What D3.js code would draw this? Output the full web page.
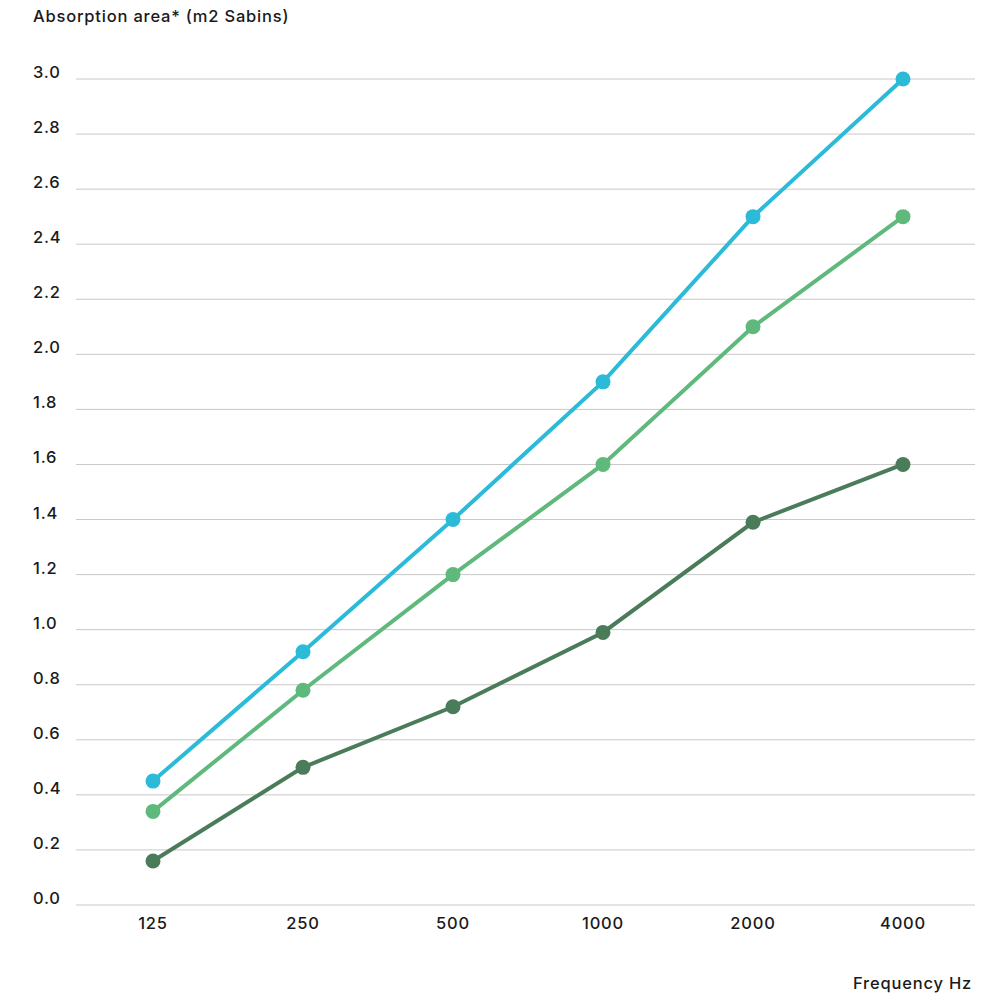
<!DOCTYPE html>
<html>
<head>
<meta charset="utf-8">
<script src="https://cdn.jsdelivr.net/npm/d3@7"></script>
<style>
  body { margin: 0; background: #fff; }
  text { font-family: Inter, "Noto Sans", sans-serif; fill: #1a1a1a; font-size: 16.5px; font-weight: 500; letter-spacing: 0.8px; }
</style>
</head>
<body>
<div id="vis-container"></div>
<script>
// Data
var frequencies = ['125', '250', '500', '1000', '2000', '4000']
var yTicks = [0, 0.2, 0.4, 0.6, 0.8, 1.0, 1.2, 1.4, 1.6, 1.8, 2.0, 2.2, 2.4, 2.6, 2.8, 3.0]
var seriesBlue = [0.45, 0.92, 1.40, 1.90, 2.50, 3.00]
var seriesLightGreen = [0.34, 0.78, 1.20, 1.60, 2.10, 2.50]
var seriesDarkGreen = [0.16, 0.50, 0.72, 0.99, 1.39, 1.60]

var series = [
  { values: seriesDarkGreen, color: '#4a7c5a' },
  { values: seriesLightGreen, color: '#5fb97c' },
  { values: seriesBlue, color: '#2bbbd9' }
]

var w = 1005, h = 997
var svg = d3.select('#vis-container').append('svg')
    .attr('width', w)
    .attr('height', h)

// Scales
var xScale = d3.scalePoint()
    .domain(frequencies)
    .range([78, 978])
    .padding(0.5)
var yScale = d3.scaleLinear()
    .domain([0, 3])
    .range([905, 79])

// Gridlines + y labels
svg.selectAll('line.grid')
    .data(yTicks)
    .enter()
  .append('line')
    .attr('class', 'grid')
    .attr('x1', 76)
    .attr('x2', 975)
    .attr('y1', function (d) { return yScale(d) })
    .attr('y2', function (d) { return yScale(d) })
    .attr('stroke', '#c8c8c8')
    .attr('stroke-width', 1)

svg.selectAll('text.ytick')
    .data(yTicks)
    .enter()
  .append('text')
    .attr('class', 'ytick')
    .attr('x', 33)
    .attr('y', function (d) { return yScale(d) - 1 })
    .text(function (d) { return d3.format('.1f')(d) })

// x labels
svg.selectAll('text.xtick')
    .data(frequencies)
    .enter()
  .append('text')
    .attr('class', 'xtick')
    .attr('x', function (d) { return xScale(d) })
    .attr('y', 929)
    .attr('text-anchor', 'middle')
    .text(function (d) { return d })

// Titles
svg.append('text')
    .attr('x', 33)
    .attr('y', 22)
    .text('Absorption area* (m2 Sabins)')

svg.append('text')
    .attr('x', 972)
    .attr('y', 989)
    .attr('text-anchor', 'end')
    .text('Frequency Hz')

// Lines
var line = d3.line()
    .x(function (d, i) { return xScale(frequencies[i]) })
    .y(function (d) { return yScale(d) })

var groups = svg.selectAll('g.series')
    .data(series)
    .enter()
  .append('g')
    .attr('class', 'series')

groups.append('path')
    .attr('d', function (d) { return line(d.values) })
    .attr('fill', 'none')
    .attr('stroke', function (d) { return d.color })
    .attr('stroke-width', 4)

groups.selectAll('circle')
    .data(function (d) { return d.values.map(function (v) { return { v: v, color: d.color } }) })
    .enter()
  .append('circle')
    .attr('cx', function (d, i) { return xScale(frequencies[i]) })
    .attr('cy', function (d) { return yScale(d.v) })
    .attr('r', 7.5)
    .attr('fill', function (d) { return d.color })
</script>
</body>
</html>
